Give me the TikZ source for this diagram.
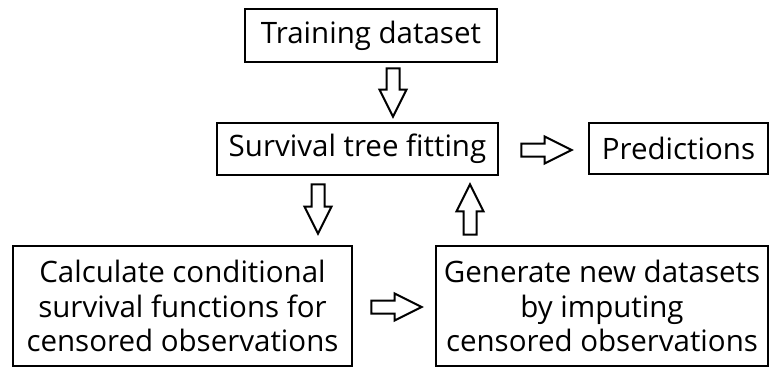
\documentclass[tikz,border=0pt]{standalone}
\usepackage{fontspec}
\setmainfont{Open Sans}
\usetikzlibrary{calc}

% hollow block arrow from #1 to #2 (coordinates given with parentheses)
\newcommand{\hollowarrow}[2]{%
  \path #1 coordinate (ha) #2 coordinate (hb);
  \path ($(hb)!27pt!(ha)$) coordinate (hc);
  \draw[arrowline] ($(ha)!6.5pt!90:(hb)$) -- ($(hc)!6.5pt!-90:(ha)$) -- ($(hc)!13.5pt!-90:(ha)$)
    -- (hb) -- ($(hc)!13.5pt!90:(ha)$) -- ($(hc)!6.5pt!90:(ha)$) -- ($(ha)!6.5pt!-90:(hb)$) -- cycle;
}

\begin{document}
\begin{tikzpicture}[x=1pt,y=-1pt,
  stage/.style={draw=black,line width=2.6pt,shape=rectangle,align=center,inner sep=0pt,
    font=\fontsize{29.5}{34.5}\selectfont},
  arrowline/.style={draw=black,line width=2pt,fill=white,line join=miter}]
\useasboundingbox (0,0) rectangle (770,370);

\node[stage,minimum width=252,minimum height=53] (train) at (371,35.5) {Training dataset};
\node[stage,minimum width=281,minimum height=52] (fit) at (357.5,149) {Survival tree fitting};
\node[stage,minimum width=179,minimum height=51] (pred) at (678.5,148.5) {Predictions};
\node[stage,minimum width=339,minimum height=120] (calcsurv) at (182.5,306)
  {Calculate conditional\\survival functions for\\censored observations};
\node[stage,minimum width=332,minimum height=120] (gen) at (602,306)
  {Generate new datasets\\by imputing\\censored observations};

\hollowarrow{($(train.south)+(22,5)$)}{($(fit.north)+(35.5,-5)$)}
\hollowarrow{($(fit.east)+(22,1)$)}{($(pred.west)+(-16,1.5)$)}
\hollowarrow{($(fit.south)+(-39.5,8)$)}{($(calcsurv.north)+(135.5,-11)$)}
\hollowarrow{($(calcsurv.east)+(18,1)$)}{($(gen.west)+(-13,1)$)}
\hollowarrow{($(gen.north)+(-132,-10)$)}{($(fit.south)+(112.5,8)$)}
\end{tikzpicture}
\end{document}
